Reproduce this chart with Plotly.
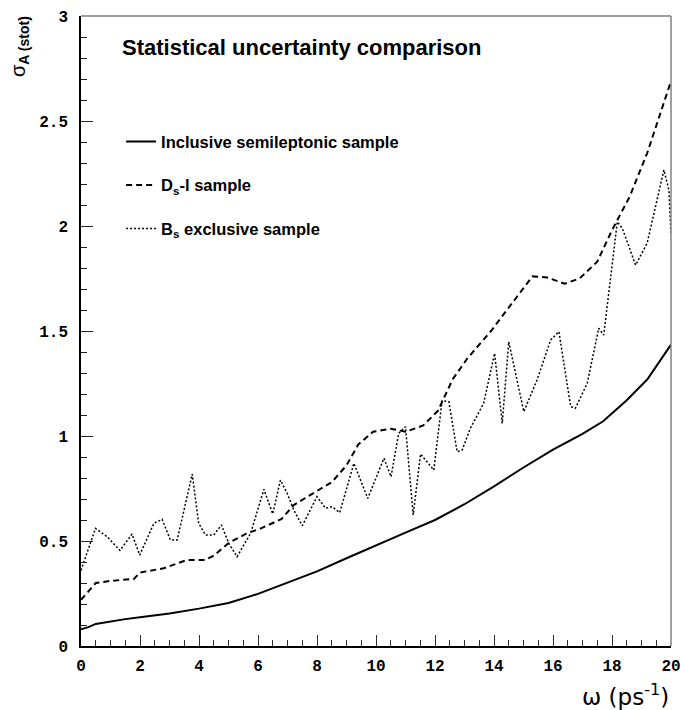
import plotly.graph_objects as go

# ---- data ----
x_incl = [0, 0.25, 0.5, 1, 1.5, 2, 3, 4, 5, 6, 7, 8, 9, 10, 11, 12, 13, 14, 15, 16, 17, 17.7, 18.5, 19.2, 20]
y_incl = [0.08, 0.09, 0.105, 0.118, 0.128, 0.137, 0.155, 0.178, 0.205, 0.248, 0.3, 0.355, 0.418, 0.48, 0.54,
          0.6, 0.675, 0.76, 0.85, 0.935, 1.01, 1.07, 1.17, 1.27, 1.435]

x_dsl = [0, 0.5, 1, 1.8, 2.0, 2.8, 3.6, 4.2, 4.5, 5.0, 5.6, 6.1, 6.8, 7.2, 7.9, 8.5, 9.0, 9.4, 9.9, 10.5, 11.0,
         11.6, 12.1, 12.6, 13.1, 13.9, 14.6, 15.3, 15.8, 16.4, 16.9, 17.5, 18.0, 18.6, 19.2, 20]
y_dsl = [0.22, 0.30, 0.31, 0.32, 0.35, 0.37, 0.41, 0.41, 0.43, 0.49, 0.535, 0.56, 0.605, 0.67, 0.73, 0.78, 0.86,
         0.96, 1.02, 1.035, 1.02, 1.05, 1.12, 1.27, 1.37, 1.5, 1.63, 1.76, 1.755, 1.725, 1.75, 1.83, 1.98, 2.14,
         2.35, 2.69]

x_bs = [0, 0.49, 0.89, 1.32, 1.73, 1.99, 2.47, 2.75, 3.03, 3.26, 3.77, 3.99, 4.22, 4.5, 4.76, 5.01, 5.29, 5.75,
        6.2, 6.5, 6.76, 6.99, 7.21, 7.5, 8.0, 8.29, 8.51, 8.77, 9.25, 9.72, 10.27, 10.51, 10.77, 11.0, 11.26,
        11.51, 11.96, 12.24, 12.47, 12.75, 12.92, 13.2, 13.65, 14.02, 14.28, 14.5, 15.01, 15.46, 15.92, 16.2,
        16.6, 16.76, 17.16, 17.55, 17.72, 18.18, 18.35, 18.8, 19.19, 19.76, 19.93, 20.0]
y_bs = [0.36, 0.56, 0.52, 0.455, 0.533, 0.433, 0.584, 0.603, 0.505, 0.505, 0.818, 0.584, 0.528, 0.528, 0.576,
        0.489, 0.425, 0.537, 0.746, 0.629, 0.79, 0.727, 0.648, 0.573, 0.711, 0.656, 0.663, 0.635, 0.87, 0.703,
        0.894, 0.806, 1.013, 1.044, 0.624, 0.914, 0.838, 1.168, 1.163, 0.925, 0.933, 1.037, 1.156, 1.394, 1.06,
        1.449, 1.116, 1.267, 1.457, 1.497, 1.14, 1.132, 1.251, 1.513, 1.481, 2.02, 1.989, 1.814, 1.918, 2.267,
        2.17, 1.957]

x_ticks = [0, 2, 4, 6, 8, 10, 12, 14, 16, 18, 20]
y_ticks = [0, 0.5, 1, 1.5, 2, 2.5, 3]
y_tick_text = ["0", "0.5", "1", "1.5", "2", "2.5", "3"]

names = ["Inclusive semileptonic sample", "D<sub>s</sub>-l sample", "B<sub>s</sub> exclusive sample"]
title = "Statistical uncertainty comparison"

fig = go.Figure()
fig.add_trace(go.Scatter(x=x_incl, y=y_incl, mode="lines", name="<b>" + names[0] + "</b>",
                         line=dict(color="black", width=2), legendgroup="a"))
fig.add_trace(go.Scatter(x=x_dsl, y=y_dsl, mode="lines", name="<b>" + names[1] + "</b>",
                         line=dict(color="black", width=2, dash="6px,4px"), legendgroup="b"))
fig.add_trace(go.Scatter(x=x_bs, y=y_bs, mode="lines", name="<b>" + names[2] + "</b>",
                         line=dict(color="black", width=1.5, dash="2px,2px"), legendgroup="c"))

tickfont = dict(family="Liberation Mono", size=16, color="black", weight="bold")

fig.update_layout(
    width=681, height=710,
    margin=dict(l=81, r=10, t=16, b=64, autoexpand=False),
    paper_bgcolor="white", plot_bgcolor="white",
    showlegend=True,
    legend=dict(x=0.068, y=0.828, xanchor="left", yanchor="top", bgcolor="rgba(0,0,0,0)",
                font=dict(family="Liberation Sans", size=16.5, color="black"),
                tracegroupgap=19, itemwidth=30),
    xaxis=dict(range=[0, 20], tickvals=x_ticks, ticktext=[str(v) for v in x_ticks],
               ticks="inside", ticklen=11, tickwidth=1, tickcolor="#333", automargin=False,
               minor=dict(dtick=0.5, ticks="inside", ticklen=6, tickcolor="#333", tickwidth=1),
               showline=True, linecolor="black", linewidth=1.5, showgrid=False, zeroline=False,
               tickfont=tickfont, ticklabelstandoff=4),
    yaxis=dict(range=[0, 3], tickvals=y_ticks, ticktext=y_tick_text, automargin=False,
               ticks="inside", ticklen=12, tickwidth=1, tickcolor="#222",
               minor=dict(dtick=0.1, ticks="inside", ticklen=6, tickcolor="#222", tickwidth=1),
               showline=True, linecolor="black", linewidth=1.5, showgrid=False, zeroline=False,
               tickfont=tickfont, ticklabelstandoff=8),
)

# frame top/right
fig.add_shape(type="line", xref="paper", yref="paper", x0=0, x1=1, y0=1, y1=1,
              line=dict(color="#808080", width=1.5))
fig.add_shape(type="line", xref="paper", yref="paper", x0=1, x1=1, y0=0, y1=1,
              line=dict(color="#808080", width=1.5))

fig.add_annotation(text="<b>" + title + "</b>", xref="paper", yref="paper",
                   x=(120 - 81) / 590, y=(646 - 47) / 630, xanchor="left", yanchor="middle",
                   showarrow=False, font=dict(family="Liberation Sans", size=22, color="black"))

fig.add_annotation(text="σ<sub><b>A (stot)</b></sub>", xref="paper", yref="paper",
                   x=(19 - 81) / 590, y=(646 - 47) / 630, xanchor="center", yanchor="middle",
                   textangle=-90, showarrow=False,
                   font=dict(family="Liberation Sans", size=20, color="black"))

fig.add_annotation(text="ω (ps<sup>-1</sup>)", xref="paper", yref="paper",
                   x=1.0, y=(646 - 695) / 630, xanchor="right", yanchor="middle",
                   showarrow=False, font=dict(family="DejaVu Sans", size=23, color="black"))

fig.write_html("out.html")
